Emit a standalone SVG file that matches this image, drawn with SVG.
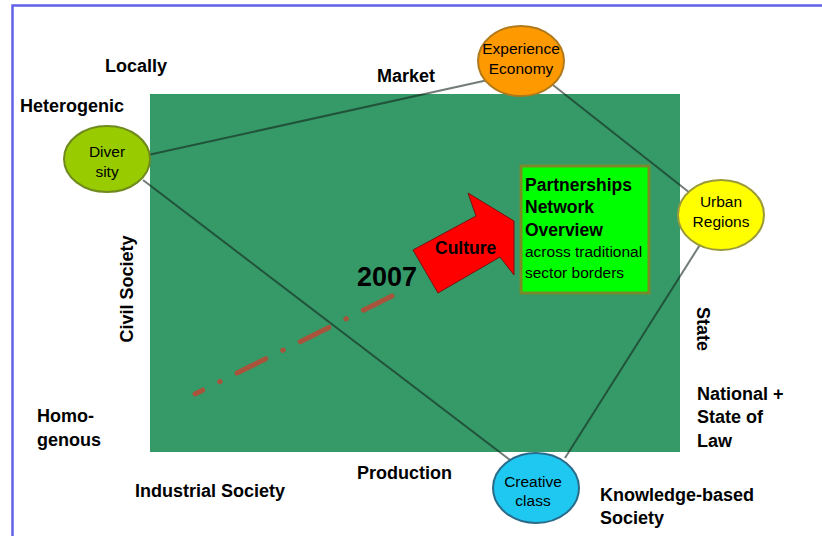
<svg xmlns="http://www.w3.org/2000/svg" width="822" height="536" viewBox="0 0 822 536">
  <style>
    .lbl { font-family: "Liberation Sans", Arial, sans-serif; font-weight: bold; font-size: 18px; fill: #000; }
    .year { font-size: 27px; }
    .arrow-lbl { font-size: 17.5px; }
    .node-text { font-family: "Liberation Sans", Arial, sans-serif; font-size: 15.5px; fill: #000; text-anchor: middle; }
    .edge { stroke: #14241c; stroke-opacity: 0.6; stroke-width: 2; fill: none; }
    .box-title { font-family: "Liberation Sans", Arial, sans-serif; font-weight: bold; font-size: 17.5px; fill: #000; }
    .box-sub { font-family: "Liberation Sans", Arial, sans-serif; font-size: 15.5px; fill: #000; }
  </style>

  <!-- page background and frame -->
  <rect x="0" y="0" width="822" height="536" fill="#ffffff"/>
  <path d="M12.5 536 V5.5 H822" fill="none" stroke="#6262e6" stroke-width="2.5"/>

  <!-- central field -->
  <rect id="field" x="150" y="94" width="530" height="358" fill="#359a68"/>

  <!-- axis labels -->
  <g id="labels">
    <text class="lbl" x="105" y="72">Locally</text>
    <text class="lbl" x="377" y="82">Market</text>
    <text class="lbl" x="20" y="112">Heterogenic</text>
    <text class="lbl" transform="translate(133 289) rotate(-90)" text-anchor="middle">Civil Society</text>
    <text class="lbl" transform="translate(697 307) rotate(90)">State</text>
    <text class="lbl" x="697" y="400">National +</text>
    <text class="lbl" x="697" y="423">State of</text>
    <text class="lbl" x="697" y="447">Law</text>
    <text class="lbl" x="37" y="422">Homo-</text>
    <text class="lbl" x="37" y="446">genous</text>
    <text class="lbl" x="357" y="479">Production</text>
    <text class="lbl" x="135" y="497">Industrial Society</text>
    <text class="lbl" x="600" y="501">Knowledge-based</text>
    <text class="lbl" x="600" y="524">Society</text>
  </g>

  <!-- trend line up to 2007 -->
  <line id="trend" x1="392" y1="296" x2="195" y2="394" stroke="#a8543c" stroke-width="5" stroke-linecap="round" stroke-dasharray="32 19 0.5 19"/>
  <text class="lbl year" x="357" y="286">2007</text>

  <!-- connectors -->
  <g id="connectors">
    <line class="edge" x1="148" y1="155" x2="488" y2="80"/>
    <line class="edge" x1="143" y1="180" x2="510" y2="460"/>
    <line class="edge" x1="553" y1="85" x2="690" y2="193"/>
    <line class="edge" x1="703" y1="240" x2="565" y2="458"/>
  </g>

  <!-- culture arrow -->
  <g id="culture">
    <polygon points="413,250 476,216 468,193 514,221 514,275 500,257 438,293" fill="#ff0000" stroke="#7a1010" stroke-width="1" stroke-linejoin="miter"/>
    <text class="lbl arrow-lbl" x="435" y="254">Culture</text>
  </g>

  <!-- partnerships box -->
  <g id="partnerships">
    <rect x="521" y="166" width="128" height="127" fill="#00ff00" stroke="#7a8a2a" stroke-width="3"/>
    <text class="box-title" x="525" y="191">Partnerships</text>
    <text class="box-title" x="525" y="213">Network</text>
    <text class="box-title" x="525" y="236">Overview</text>
    <text class="box-sub" x="525" y="257">across traditional</text>
    <text class="box-sub" x="525" y="278">sector borders</text>
  </g>

  <!-- nodes -->
  <g id="diversity">
    <ellipse cx="107" cy="159" rx="43" ry="33" fill="#99cc00" stroke="#6f8a1e" stroke-width="2"/>
    <text class="node-text" x="107" y="157">Diver</text>
    <text class="node-text" x="107" y="177">sity</text>
  </g>
  <g id="experience">
    <ellipse cx="521" cy="61" rx="43" ry="35" fill="#ff9900" stroke="#b07a1a" stroke-width="2"/>
    <text class="node-text" x="521" y="54">Experience</text>
    <text class="node-text" x="521" y="74">Economy</text>
  </g>
  <g id="urban">
    <ellipse cx="721" cy="215" rx="43" ry="35" fill="#ffff00" stroke="#9a9a3a" stroke-width="2"/>
    <text class="node-text" x="721" y="207">Urban</text>
    <text class="node-text" x="721" y="227">Regions</text>
  </g>
  <g id="creative">
    <ellipse cx="536" cy="488" rx="43" ry="35" fill="#1ec8f0" stroke="#2a6a8a" stroke-width="2"/>
    <text class="node-text" x="533" y="487">Creative</text>
    <text class="node-text" x="533" y="506">class</text>
  </g>
</svg>
